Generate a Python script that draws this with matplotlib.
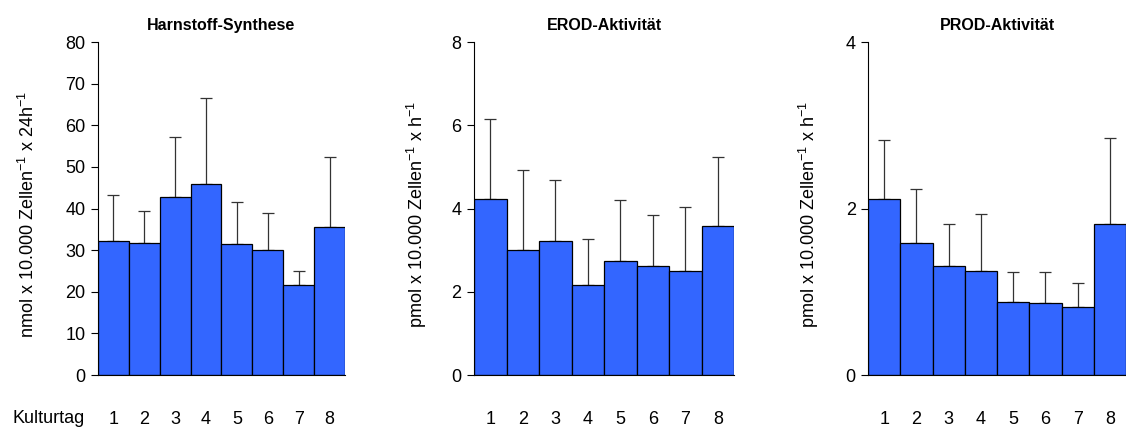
import numpy as np
import matplotlib.pyplot as plt

plt.rcParams['font.family'] = ['Liberation Sans', 'DejaVu Sans']
plt.rcParams['mathtext.fontset'] = 'custom'
plt.rcParams['mathtext.rm'] = 'Liberation Sans'
plt.rcParams['mathtext.it'] = 'Liberation Sans:italic'

days = [1, 2, 3, 4, 5, 6, 7, 8]

# Harnstoff-Synthese: mean and upper end of the error bar
urea_mean = [32.3, 31.8, 42.8, 46.0, 31.5, 30.1, 21.7, 35.5]
urea_top = [43.2, 39.4, 57.2, 66.6, 41.6, 39.0, 25.0, 52.3]

# EROD activity
erod_mean = [4.24, 3.01, 3.23, 2.17, 2.75, 2.63, 2.50, 3.59]
erod_top = [6.16, 4.92, 4.69, 3.26, 4.21, 3.84, 4.04, 5.23]

# PROD activity
prod_mean = [2.11, 1.58, 1.31, 1.25, 0.88, 0.86, 0.82, 1.81]
prod_top = [2.82, 2.24, 1.82, 1.94, 1.24, 1.24, 1.10, 2.85]

panels = [
    ("Harnstoff-Synthese", urea_mean, urea_top, [0, 10, 20, 30, 40, 50, 60, 70, 80], 80,
     "nmol x 10.000 Zellen$^{-1}$ x 24h$^{-1}$", [0.087, 0.1238, 0.2194, 0.778], 0.025),
    ("EROD-Aktivität", erod_mean, erod_top, [0, 2, 4, 6, 8], 8,
     "pmol x 10.000 Zellen$^{-1}$ x h$^{-1}$", [0.421, 0.1238, 0.231, 0.778], 0.370),
    ("PROD-Aktivität", prod_mean, prod_top, [0, 2, 4], 4,
     "pmol x 10.000 Zellen$^{-1}$ x h$^{-1}$", [0.771, 0.1238, 0.229, 0.778], 0.718),
]

fig = plt.figure(figsize=(11.26, 4.28), dpi=100)

for title, mean, top, yticks, ymax, ylabel, rect, label_x in panels:
    ax = fig.add_axes(rect)
    mean = np.array(mean)
    err = np.array(top) - mean
    ax.bar(days, mean, width=1.0, color='#3366ff', edgecolor='black', linewidth=0.9, zorder=2)
    ax.errorbar(days, mean, yerr=[np.zeros_like(err), err], fmt='none',
                ecolor='#333333', elinewidth=0.9, capsize=4, capthick=0.9, zorder=1)
    ax.set_xlim(0.5, 8.5)
    ax.set_ylim(0, ymax)
    ax.set_yticks(yticks)
    ax.set_xticks(days)
    ax.tick_params(axis='x', length=0, pad=26, labelsize=13)
    ax.tick_params(axis='y', length=5, width=0.8, labelsize=13, direction='out', pad=4)
    for side in ['top', 'right']:
        ax.spines[side].set_visible(False)
    ax.spines['left'].set_linewidth(0.8)
    ax.spines['bottom'].set_linewidth(0.8)
    ax.set_title(title, fontsize=11.5, fontweight='bold', pad=9)
    fig.text(label_x, 0.5, ylabel, rotation=90, fontsize=13, ha='center', va='center')

fig.text(0.043, 0.023, "Kulturtag", fontsize=13, ha='center', va='center')

fig.savefig('out.png', dpi=100)
